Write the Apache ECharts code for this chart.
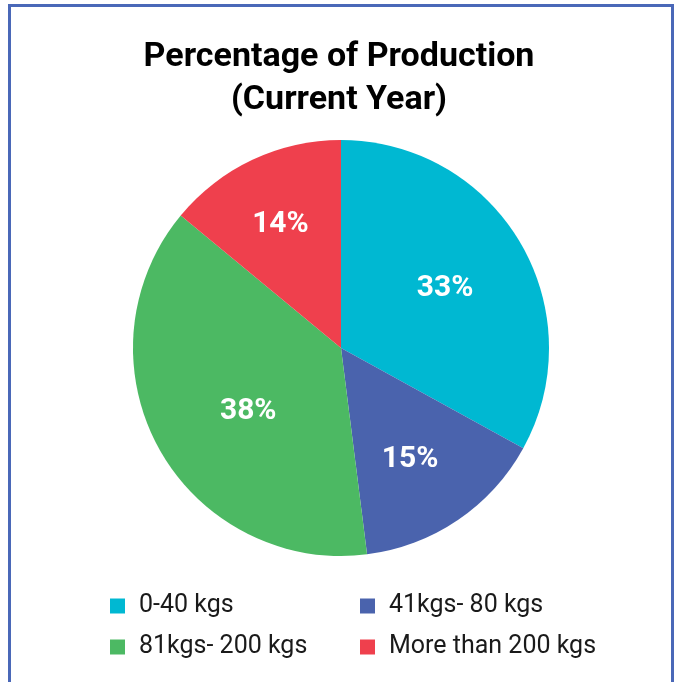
<!DOCTYPE html>
<html>
<head>
<meta charset="utf-8">
<title>Percentage of Production</title>
<script src="https://cdn.jsdelivr.net/npm/echarts@6/dist/echarts.min.js"></script>
<style>
  html, body { margin: 0; padding: 0; background: #ffffff; }
  #chart { width: 678px; height: 682px; }
</style>
</head>
<body>
<div id="chart"></div>
<script>
// Production share by weight class, current year (percent)
const categories = ['0-40 kgs', '41kgs- 80 kgs', '81kgs- 200 kgs', 'More than 200 kgs'];
const shares = [33, 15, 38, 14];
const sliceColors = ['#00b8d2', '#4a63ad', '#4cb963', '#ef404d'];
// nudges for the in-slice percentage labels
const labelOffsets = [[12, -5], [9, 23], [1, 12], [-15, -27]];

const chart = echarts.init(document.getElementById('chart'), null, { renderer: 'canvas' });

const pieData = categories.map((name, i) => ({
  name: name,
  value: shares[i],
  itemStyle: { color: sliceColors[i] },
  label: { offset: labelOffsets[i] }
}));

const legendText = {
  fontFamily: 'Roboto',
  fontSize: 25,
  color: '#1a1a1a',
  lineHeight: 26,
  padding: [0, 0, 0, 9]
};

chart.setOption({
  animation: false,
  backgroundColor: '#ffffff',
  title: {
    text: 'Percentage of Production\n(Current Year)',
    left: 'center',
    top: 36,
    padding: 0,
    textStyle: {
      fontFamily: 'Roboto',
      fontWeight: 'bold',
      fontSize: 34,
      lineHeight: 43,
      color: '#000000'
    }
  },
  graphic: [{
    type: 'rect',
    silent: true,
    shape: { x: 9.5, y: 5.5, width: 663, height: 720 },
    style: { fill: 'none', stroke: '#4a68b8', lineWidth: 3 },
    z: 0
  }],
  legend: [
    {
      data: [categories[0], categories[2]],
      orient: 'vertical',
      left: 110,
      top: 593,
      padding: 0,
      itemWidth: 15,
      itemHeight: 15,
      itemGap: 15,
      icon: 'rect',
      selectedMode: false,
      textStyle: legendText
    },
    {
      data: [categories[1], categories[3]],
      orient: 'vertical',
      left: 360,
      top: 593,
      padding: 0,
      itemWidth: 15,
      itemHeight: 15,
      itemGap: 15,
      icon: 'rect',
      selectedMode: false,
      textStyle: legendText
    }
  ],
  series: [{
    type: 'pie',
    center: [341, 348],
    radius: 208,
    startAngle: 90,
    clockwise: true,
    avoidLabelOverlap: false,
    silent: true,
    itemStyle: { borderWidth: 0 },
    label: {
      show: true,
      position: 'inside',
      formatter: '{c}%',
      fontFamily: 'Roboto',
      fontWeight: 'bold',
      fontSize: 30,
      color: '#ffffff'
    },
    labelLine: { show: false },
    data: pieData
  }]
});
</script>
</body>
</html>
